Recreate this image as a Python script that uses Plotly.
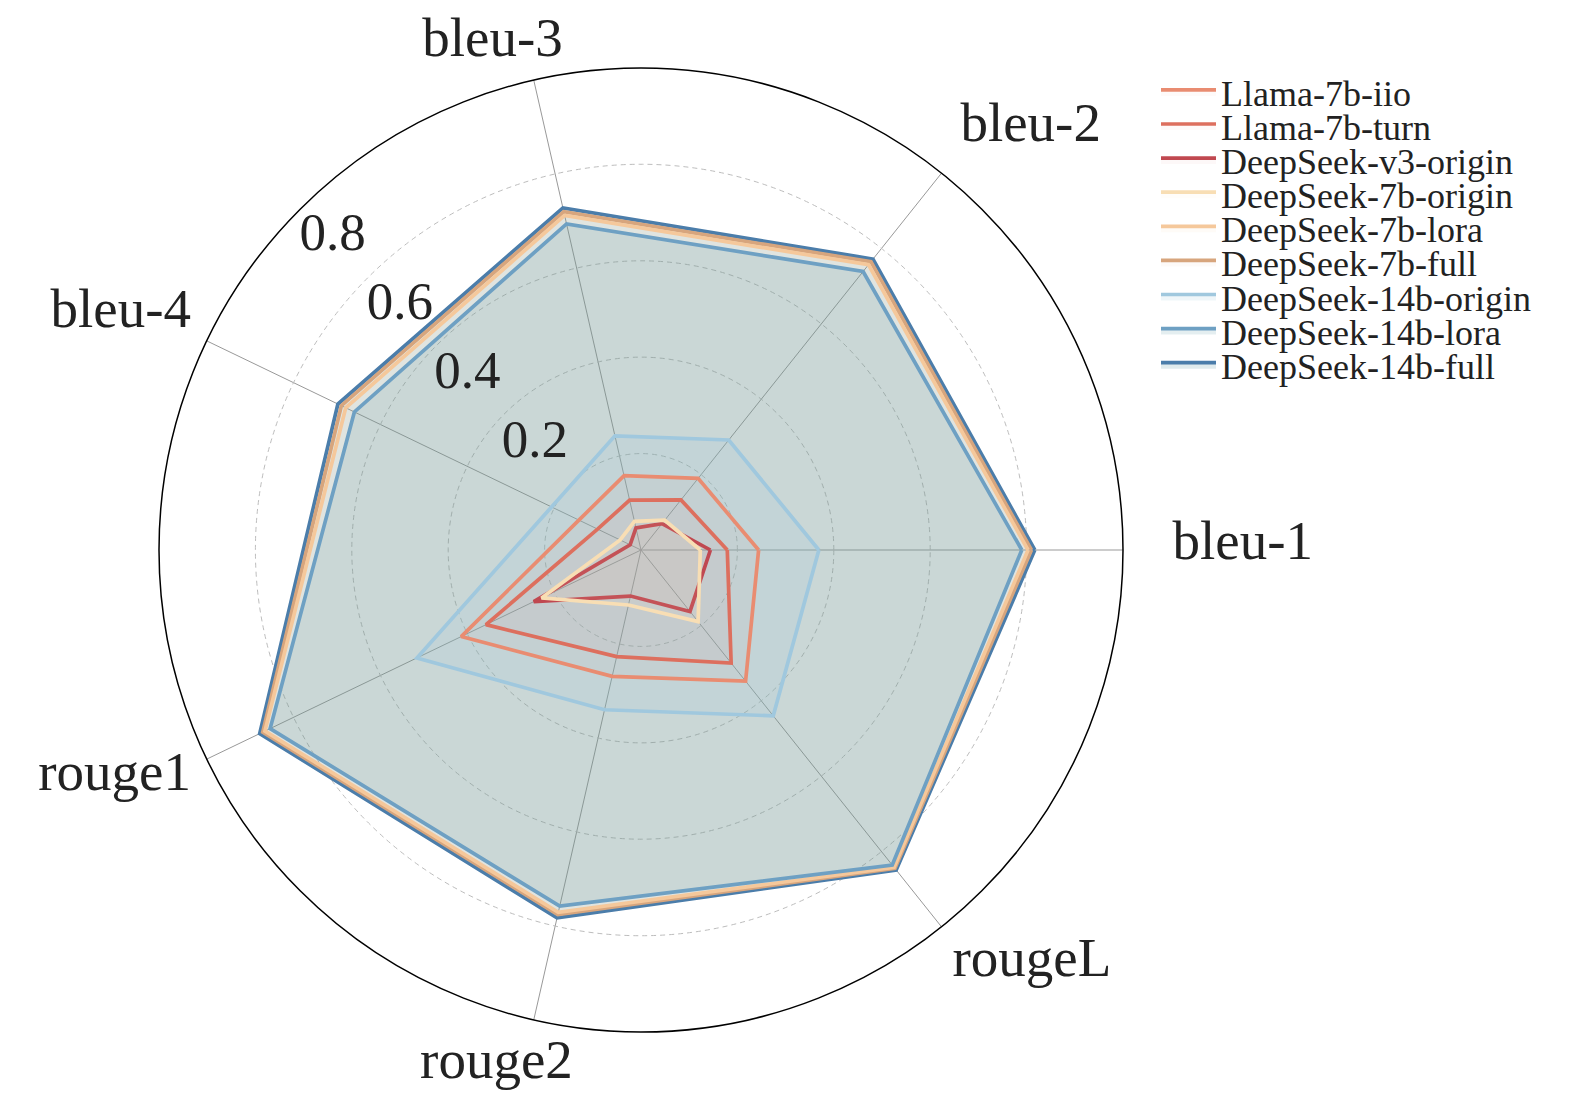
import plotly.graph_objects as go

# metric axes, counterclockwise from the right
labels = ['bleu-1', 'bleu-2', 'bleu-3', 'bleu-4', 'rouge1', 'rouge2', 'rougeL']
radial_ticks = [0.2, 0.4, 0.6, 0.8]

llama_7b_iio = [0.244, 0.190, 0.158, 0.143, 0.414, 0.269, 0.348]
llama_7b_turn = [0.179, 0.133, 0.106, 0.100, 0.357, 0.227, 0.300]
ds_v3_origin = [0.144, 0.070, 0.047, 0.025, 0.247, 0.098, 0.163]
ds_7b_origin = [0.123, 0.079, 0.061, 0.048, 0.229, 0.117, 0.190]
ds_7b_lora = [0.803, 0.757, 0.712, 0.680, 0.866, 0.771, 0.842]
ds_7b_full = [0.810, 0.765, 0.720, 0.690, 0.871, 0.776, 0.845]
ds_14b_origin = [0.369, 0.292, 0.243, 0.206, 0.516, 0.340, 0.440]
ds_14b_lora = [0.790, 0.739, 0.694, 0.660, 0.854, 0.758, 0.836]
ds_14b_full = [0.817, 0.772, 0.728, 0.698, 0.878, 0.783, 0.849]

names = ['Llama-7b-iio', 'Llama-7b-turn', 'DeepSeek-v3-origin',
         'DeepSeek-7b-origin', 'DeepSeek-7b-lora', 'DeepSeek-7b-full',
         'DeepSeek-14b-origin', 'DeepSeek-14b-lora', 'DeepSeek-14b-full']
values = [llama_7b_iio, llama_7b_turn, ds_v3_origin, ds_7b_origin, ds_7b_lora,
          ds_7b_full, ds_14b_origin, ds_14b_lora, ds_14b_full]

# style: line colour, fill tint and fill strength per model
colors = {
    'Llama-7b-iio': (233, 140, 113),
    'Llama-7b-turn': (221, 111, 94),
    'DeepSeek-v3-origin': (192, 72, 80),
    'DeepSeek-7b-origin': (248, 222, 180),
    'DeepSeek-7b-lora': (245, 200, 155),
    'DeepSeek-7b-full': (215, 165, 125),
    'DeepSeek-14b-origin': (160, 200, 222),
    'DeepSeek-14b-lora': (110, 160, 195),
    'DeepSeek-14b-full': (75, 125, 170),
}
fill_tint = dict(colors)
fill_tint['DeepSeek-14b-lora'] = (90, 150, 160)
fill_tint['DeepSeek-14b-full'] = (60, 130, 140)
fill_alpha = {
    'Llama-7b-iio': 0.04, 'Llama-7b-turn': 0.04, 'DeepSeek-v3-origin': 0.04,
    'DeepSeek-7b-origin': 0.07, 'DeepSeek-7b-lora': 0.08, 'DeepSeek-7b-full': 0.05,
    'DeepSeek-14b-origin': 0.17, 'DeepSeek-14b-lora': 0.16, 'DeepSeek-14b-full': 0.16,
}
# draw big polygons first so the small ones stay on top
draw_order = [8, 5, 4, 7, 6, 0, 1, 2, 3]

FONT = 'Liberation Serif'
W, H = 1575, 1094
cx, cy, R = 633, 542, 482


def domain(dx=0, dy=0):
    x0, y0 = cx + dx, cy - dy
    return dict(x=[(x0 - R) / W, (x0 + R) / W], y=[(H - y0 - R) / H, (H - y0 + R) / H])


fig = go.Figure()
legend_layout = {}
for i in draw_order:
    name, vals = names[i], values[i]
    lg = 'legend' if i == 0 else 'legend%d' % (i + 1)
    fig.add_trace(go.Scatterpolar(
        r=vals + vals[:1], theta=labels + labels[:1],
        mode='lines', name=name, legend=lg,
        line=dict(color='rgb(%d,%d,%d)' % colors[name], width=3.7),
        fill='toself',
        fillcolor='rgba(%d,%d,%d,%.3f)' % (fill_tint[name] + (fill_alpha[name],)),
    ))
    yc = 84 + i * 34.1
    legend_layout[lg] = dict(
        x=1148 / W, y=1 - yc / H, xanchor='left', yanchor='middle',
        bgcolor='rgba(0,0,0,0)', itemwidth=55,
        font=dict(family=FONT, size=36, color='#222'),
    )

layout_polars = {}

# radial tick labels: own invisible polar, range shifted so labels sit outside their rings
fig.add_trace(go.Scatterpolar(r=[0.5], theta=[0], mode='markers', subplot='polar2',
                              marker=dict(opacity=0), showlegend=False, hoverinfo='skip'))
layout_polars['polar2'] = dict(
    domain=domain(-54, -6),
    bgcolor='rgba(0,0,0,0)',
    radialaxis=dict(
        range=[-0.11, 0.89], tickvals=radial_ticks,
        ticktext=[str(v) for v in radial_ticks],
        angle=134.4, tickangle=134.4, showline=False, showgrid=False, ticks='',
        tickfont=dict(family=FONT, size=53, color='#222'),
    ),
    angularaxis=dict(visible=False, direction='counterclockwise'),
)

# angular labels: one invisible polar each, nudged (px right, px up) like the source layout
label_nudge = {
    'bleu-1': (32, 10), 'bleu-2': (8, 22), 'bleu-3': (33, 1), 'bleu-4': (0, 19),
    'rouge1': (0, 18), 'rouge2': (43, 17), 'rougeL': (0, 20),
}
for k, lab in enumerate(labels):
    sp = 'polar%d' % (k + 3)
    fig.add_trace(go.Scatterpolar(r=[0.5] * len(labels), theta=labels, mode='markers',
                                  subplot=sp, marker=dict(opacity=0),
                                  showlegend=False, hoverinfo='skip'))
    dx, dy = label_nudge[lab]
    layout_polars[sp] = dict(
        domain=domain(dx, dy),
        bgcolor='rgba(0,0,0,0)',
        radialaxis=dict(visible=False, range=[0, 1]),
        angularaxis=dict(
            direction='counterclockwise', rotation=0, tickvals=labels,
            ticktext=[l if l == lab else '' for l in labels],
            showline=False, showgrid=False,
            ticks='outside', ticklen=6, tickcolor='rgba(0,0,0,0)',
            tickfont=dict(family=FONT, size=55, color='#222'),
        ),
    )

fig.update_layout(
    width=W, height=H,
    margin=dict(l=0, r=0, t=0, b=0),
    paper_bgcolor='white',
    showlegend=True,
    polar=dict(
        domain=domain(),
        bgcolor='white',
        radialaxis=dict(
            range=[0, 1], tickvals=radial_ticks, showticklabels=False,
            showline=False, ticks='',
            gridcolor='#BDBDBD', griddash='5px,4px', gridwidth=1,
        ),
        angularaxis=dict(
            direction='counterclockwise', rotation=0,
            showline=True, linecolor='black', linewidth=1.5,
            gridcolor='#999999', gridwidth=1.2,
            showticklabels=False, ticks='',
        ),
    ),
    **layout_polars,
    **legend_layout,
)

fig.write_html('out.html')
